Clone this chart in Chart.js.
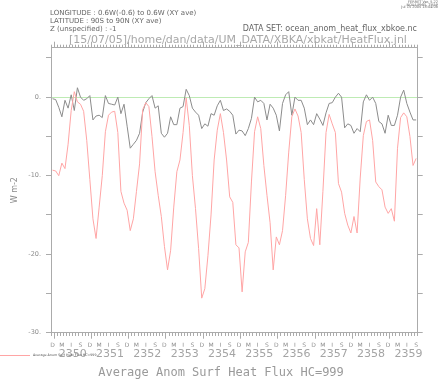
<!DOCTYPE html>
<html lang="en">
<head>
<meta charset="utf-8" />
<title>Average Anom Surf Heat Flux HC=999</title>
<script src="https://cdn.jsdelivr.net/npm/chart.js@4.4.1/dist/chart.umd.min.js"></script>
<style>
  html, body { margin: 0; padding: 0; background: #fff; }
</style>
</head>
<body>
<canvas id="heatFluxChart" width="440" height="382"></canvas>
<script>
// one value per month, Dec 2349 .. Sep 2359
const monthLetters = ['D', 'J', 'F', 'M', 'A', 'M', 'J', 'J', 'A', 'S', 'O', 'N'];
const labelledMonths = [0, 3, 6, 9]; // D M J S
const yearLabels = ['2350', '2351', '2352', '2353', '2354', '2355', '2356', '2357', '2358', '2359'];
const yTickValues = [-30, -25, -20, -15, -10, -5, 0, 5];

// black curve (all)
const fluxAll = [
  -0.2, -0.3, -1.3, -2.5, -0.4, -1.4, 0.3, -1.7, 1.2, 0.0, -0.4, -0.2,
  0.2, -2.9, -2.4, -2.3, -2.6, 0.2, -0.8, -0.9, -1.0, 0.0, -2.1, -0.9,
  -3.7, -6.5, -6.0, -5.5, -4.6, -1.9, -0.7, -0.2, 0.2, -1.4, -1.1, -4.6,
  -5.1, -4.6, -2.5, -3.5, -3.5, -1.4, -1.2, 1.0, 0.2, -1.4, -1.9, -2.3,
  -4.0, -3.4, -3.7, -2.1, -2.3, -1.1, -0.4, -1.7, -1.5, -1.8, -2.3, -4.7,
  -4.2, -4.3, -4.9, -4.0, -2.7, 0.0, -0.6, -0.4, -0.8, -2.9, -0.9, -1.4,
  -2.3, -4.3, -0.8, 0.3, 0.7, -2.3, 0.0, -0.4, -0.4, -1.4, -3.5, -2.9,
  -3.5, -2.1, -2.8, -3.6, -2.0, -0.8, -0.7, 0.0, 0.5, 0.0, -3.9, -3.4,
  -3.6, -4.6, -4.0, -4.4, -0.6, 0.3, -0.4, 0.0, -0.8, -3.1, -3.4, -4.6,
  -2.3, -3.6, -3.6, -2.3, 0.0, 0.9, -0.8, -1.9, -2.9, -2.9
];

// red curve, HC=999
const fluxHC999 = [
  -9.3, -9.4, -10.0, -8.4, -9.1, -6.0, -1.7, 0.7, -0.6, -0.9, -1.8, -5.5,
  -10.5, -15.5, -18.0, -14.0, -10.0, -4.4, -2.3, -1.9, -1.8, -4.5, -12.0, -13.5,
  -14.4, -17.0, -15.5, -12.0, -8.5, -1.6, -0.7, -1.2, -5.0, -9.5, -12.5, -15.2,
  -19.0, -22.0, -19.5, -14.0, -9.5, -8.0, -4.5, -0.1, -3.6, -10.0, -14.2, -19.3,
  -25.6, -24.4, -20.2, -15.0, -8.0, -4.2, -2.1, -4.5, -8.0, -12.7, -13.4, -18.8,
  -19.2, -24.8, -19.7, -18.5, -10.8, -4.4, -2.5, -4.0, -8.7, -12.5, -16.0, -22.0,
  -17.8, -18.8, -17.0, -12.5, -7.0, -2.5, -1.5, -2.4, -4.5, -10.5, -15.5, -18.0,
  -18.9, -14.2, -18.8, -12.0, -4.5, -2.2, -3.4, -4.5, -11.0, -12.1, -14.8, -16.3,
  -17.3, -15.2, -17.3, -10.3, -4.9, -3.1, -2.9, -5.5, -10.8, -11.4, -11.8, -14.0,
  -14.8, -14.2, -15.8, -6.5, -2.6, -2.0, -2.5, -5.0, -8.7, -7.8
];

const axisColor = '#ababab';
const textGrey = '#8c8c8c';
const redLine = 'rgb(255,165,165)';
const greyLine = 'rgb(140,140,140)';
const nMonths = fluxAll.length;

const toPoints = arr => arr.map((v, i) => ({ x: i, y: v }));

// half-month ticks: month edges get tick marks, month centres get letters
function halfMonthTicks() {
  const t = [];
  for (let k = 0; k <= nMonths * 2; k++) t.push({ value: -0.5 + k * 0.5 });
  return t;
}
const isEdge = v => Number.isInteger(v + 0.5);
const isYearEdge = v => isEdge(v) && ((v - 0.5) % 12 + 12) % 12 === 0;

const headerText = {
  id: 'headerText',
  afterDraw(chart) {
    const c = chart.ctx;
    c.save();
    c.textBaseline = 'middle';
    c.fillStyle = '#666';
    c.font = '7px "DejaVu Sans"';
    c.fillText('LONGITUDE : 0.6W(-0.6) to 0.6W (XY ave)', 50, 13.5);
    c.fillText('LATITUDE : 90S to 90N (XY ave)', 50, 21.3);
    c.fillText('Z (unspecified) : -1', 50, 29);
    c.font = '8px "DejaVu Sans"';
    c.textAlign = 'right';
    c.fillText('DATA SET: ocean_anom_heat_flux_xbkoe.nc', 417, 29);
    c.font = '3.5px "DejaVu Sans"';
    c.fillText('FERRET Ver. 5.22', 438, 2);
    c.fillText('NOAA/PMEL TMAP', 438, 4.6);
    c.fillText('Jul 15 2005 18:04:08', 438, 7);
    c.textAlign = 'center';
    c.fillStyle = '#a8a8a8';
    c.font = '11px "DejaVu Sans"';
    c.fillText('[15/07/05]/home/dan/data/UM_DATA/XBKA/xbkat/HeatFlux.jnl', 238, 40);
    c.fillStyle = '#9a9a9a';
    c.font = '12px "DejaVu Sans Mono"';
    c.fillText('Average Anom Surf Heat Flux HC=999', 221, 373);
    // legend key
    c.strokeStyle = chart.data.datasets[0].borderColor;
    c.lineWidth = 1;
    c.beginPath();
    c.moveTo(0, 355.5);
    c.lineTo(30, 355.5);
    c.stroke();
    c.textAlign = 'left';
    c.fillStyle = '#555';
    c.font = '3.3px "DejaVu Sans"';
    c.fillText(chart.data.datasets[0].label, 33, 355.5);
    c.restore();
  }
};

new Chart(document.getElementById('heatFluxChart'), {
  type: 'line',
  data: {
    datasets: [{
      label: 'Average Anom Surf Heat Flux HC=999',
      data: toPoints(fluxHC999),
      borderColor: redLine,
      borderWidth: 1,
      pointRadius: 0,
      tension: 0,
      fill: false
    }, {
      label: 'Average Anom Surf Heat Flux',
      data: toPoints(fluxAll),
      borderColor: greyLine,
      borderWidth: 1,
      pointRadius: 0,
      tension: 0,
      fill: false
    }]
  },
  options: {
    responsive: false,
    devicePixelRatio: 1,
    animation: false,
    layout: { padding: 0 },
    plugins: { legend: { display: false }, tooltip: { enabled: false } },
    scales: {
      x: {
        type: 'linear', position: 'bottom', weight: 0,
        min: -0.5, max: nMonths - 0.5,
        afterBuildTicks: s => { s.ticks = halfMonthTicks(); },
        afterFit: s => { s.height = 14; },
        border: { display: true, color: axisColor },
        grid: {
          drawOnChartArea: false, drawTicks: true, tickLength: 6,
          tickColor: ctx => isEdge(ctx.tick.value) ? axisColor : 'rgba(0,0,0,0)',
          tickBorderDash: ctx => isYearEdge(ctx.tick.value) ? [] : [3, 20]
        },
        ticks: {
          autoSkip: false, maxRotation: 0, minRotation: 0, padding: 3,
          color: textGrey, font: { family: 'DejaVu Sans', size: 6 },
          callback: v => {
            if (isEdge(v)) return '';
            const i = ((v % 12) + 12) % 12;
            return labelledMonths.includes(i) ? monthLetters[i] : '';
          }
        }
      },
      xYear: {
        type: 'linear', position: 'bottom', weight: 1,
        min: -0.5, max: nMonths - 0.5,
        afterBuildTicks: s => { s.ticks = yearLabels.map((y, k) => ({ value: 6.5 + 12 * k })); },
        afterFit: s => { s.height = 35.3; },
        border: { display: false },
        grid: { display: false, drawTicks: false },
        ticks: {
          autoSkip: false, maxRotation: 0, padding: 0.5,
          color: '#a4a4a4', font: { family: 'DejaVu Sans', size: 11 },
          callback: (v, idx) => yearLabels[idx]
        }
      },
      xTop: {
        type: 'linear', position: 'top',
        min: -0.5, max: nMonths - 0.5,
        afterBuildTicks: s => { s.ticks = halfMonthTicks().filter(t => isEdge(t.value)); },
        afterFit: s => { s.height = 47.7; },
        border: { display: true, color: axisColor },
        grid: {
          drawOnChartArea: false, tickLength: 6, tickColor: axisColor,
          tickBorderDash: ctx => isYearEdge(ctx.tick.value) ? [] : [3, 20],
          tickBorderDashOffset: ctx => isYearEdge(ctx.tick.value) ? 0 : 20
        },
        ticks: { display: false }
      },
      y: {
        type: 'linear', position: 'left',
        min: -30, max: 6.3,
        afterBuildTicks: s => { s.ticks = yTickValues.map(v => ({ value: v })); },
        afterFit: s => { s.width = 51; },
        border: { display: true, color: axisColor },
        grid: {
          drawOnChartArea: true, tickLength: 5, tickColor: axisColor,
          color: ctx => ctx.tick && ctx.tick.value === 0 ? 'rgb(190,235,180)' : 'rgba(0,0,0,0)'
        },
        ticks: {
          autoSkip: false, padding: 5,
          color: textGrey, font: { family: 'DejaVu Sans', size: 6.5 },
          callback: v => (v % 10 === 0 ? v + '.' : '')
        },
        title: {
          display: true, text: 'W m-2', color: textGrey,
          font: { family: 'DejaVu Sans', size: 8 }, padding: { top: 10 }
        }
      },
      yRight: {
        type: 'linear', position: 'right',
        min: -30, max: 6.3,
        afterBuildTicks: s => { s.ticks = yTickValues.map(v => ({ value: v })); },
        afterFit: s => { s.width = 22.3; },
        border: { display: true, color: axisColor },
        grid: { drawOnChartArea: false, tickLength: 5, tickColor: axisColor },
        ticks: { display: false }
      }
    }
  },
  plugins: [headerText]
});
</script>
</body>
</html>
